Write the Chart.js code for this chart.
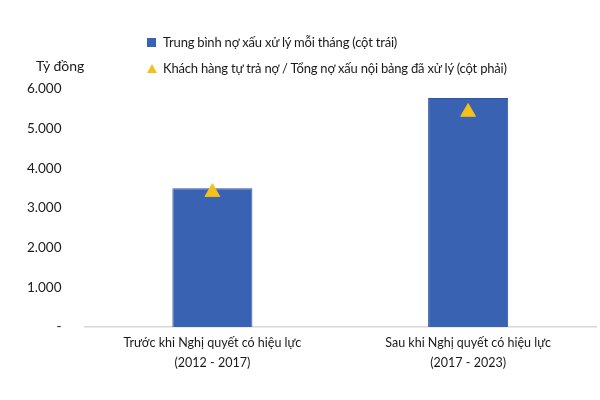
<!DOCTYPE html>
<html lang="vi">
<head>
<meta charset="utf-8">
<script src="https://cdn.jsdelivr.net/npm/chart.js@4.4.1/dist/chart.umd.min.js"></script>
<style>
  html, body { margin: 0; padding: 0; background: #fff; }
  #wrap { position: relative; width: 600px; height: 400px; font-family: Lato, sans-serif; color: #1a1a1a; }
  #legend { position: absolute; left: 147px; top: 30px; font-size: 13px; letter-spacing: -0.2px; }
  #legend div { height: 26px; line-height: 24px; white-space: nowrap; }
  .sq { display: inline-block; width: 9px; height: 9px; background: #3a62b2; margin-right: 7px; vertical-align: 0; }
  .tri { display: inline-block; width: 0; height: 0; border-left: 5px solid transparent; border-right: 5px solid transparent; border-bottom: 9px solid #f4c01a; margin-right: 6px; vertical-align: 0; }
  #unit { position: absolute; left: 36px; top: 57px; font-size: 14px; }
</style>
</head>
<body>
<div id="wrap">
  <canvas id="c" width="600" height="400"></canvas>
  <div id="unit">Tỷ đồng</div>
  <div id="legend">
    <div><span class="sq"></span>Trung bình nợ xấu xử lý mỗi tháng (cột trái)</div>
    <div><span class="tri"></span>Khách hàng tự trả nợ / Tổng nợ xấu nội bảng đã xử lý (cột phải)</div>
  </div>
</div>
<script>
// dữ liệu
const categories = [
    ['Trước khi Nghị quyết có hiệu lực', '(2012 - 2017)'],
    ['Sau khi Nghị quyết có hiệu lực', '(2017 - 2023)']
];
const monthlyNpl = [3500, 5770];
const selfRepayRatio = [3400, 5420];   // vị trí tam giác theo thang trái
const yTicks = [0, 1000, 2000, 3000, 4000, 5000, 6000];

function fmt(v) {
    if (v === 0) return '-';
    return String(v).replace(/\B(?=(\d{3})+(?!\d))/g, '.');
}

const ctx = document.getElementById('c').getContext('2d');
new Chart(ctx, {
    type: 'bar',
    data: {
        labels: categories,
        datasets: [{
            type: 'line',
            label: 'Khách hàng tự trả nợ / Tổng nợ xấu nội bảng đã xử lý (cột phải)',
            data: selfRepayRatio,
            showLine: false,
            pointStyle: 'triangle',
            pointRadius: 8.5,
            pointHoverRadius: 8.5,
            backgroundColor: '#f4c01a',
            borderColor: '#f4c01a',
            borderWidth: 1,
            order: 0
        }, {
            label: 'Trung bình nợ xấu xử lý mỗi tháng (cột trái)',
            data: monthlyNpl,
            backgroundColor: '#3a62b2',
            borderColor: '#2f56a6',
            borderWidth: 1,
            categoryPercentage: 1,
            barPercentage: 0.313,
            order: 1
        }]
    },
    options: {
        responsive: false,
        animation: false,
        layout: { autoPadding: false, padding: { left: 12, right: 4, top: 89, bottom: 29 } },
        plugins: {
            legend: { display: false },
            tooltip: { enabled: false }
        },
        scales: {
            x: {
                grid: { display: false },
                border: { color: '#d6d6d6', width: 1.5 },
                ticks: {
                    color: '#1a1a1a',
                    font: { family: 'Lato', size: 12.5, lineHeight: 1.6 },
                    padding: -2
                }
            },
            y: {
                min: 0,
                max: 6000,
                afterBuildTicks: (axis) => { axis.ticks = yTicks.map(v => ({ value: v })); },
                grid: { display: false },
                border: { display: false },
                ticks: {
                    color: '#1a1a1a',
                    font: { family: 'Lato', size: 13.5 },
                    padding: 15,
                    callback: (v) => fmt(v)
                }
            }
        }
    }
});
</script>
</body>
</html>
